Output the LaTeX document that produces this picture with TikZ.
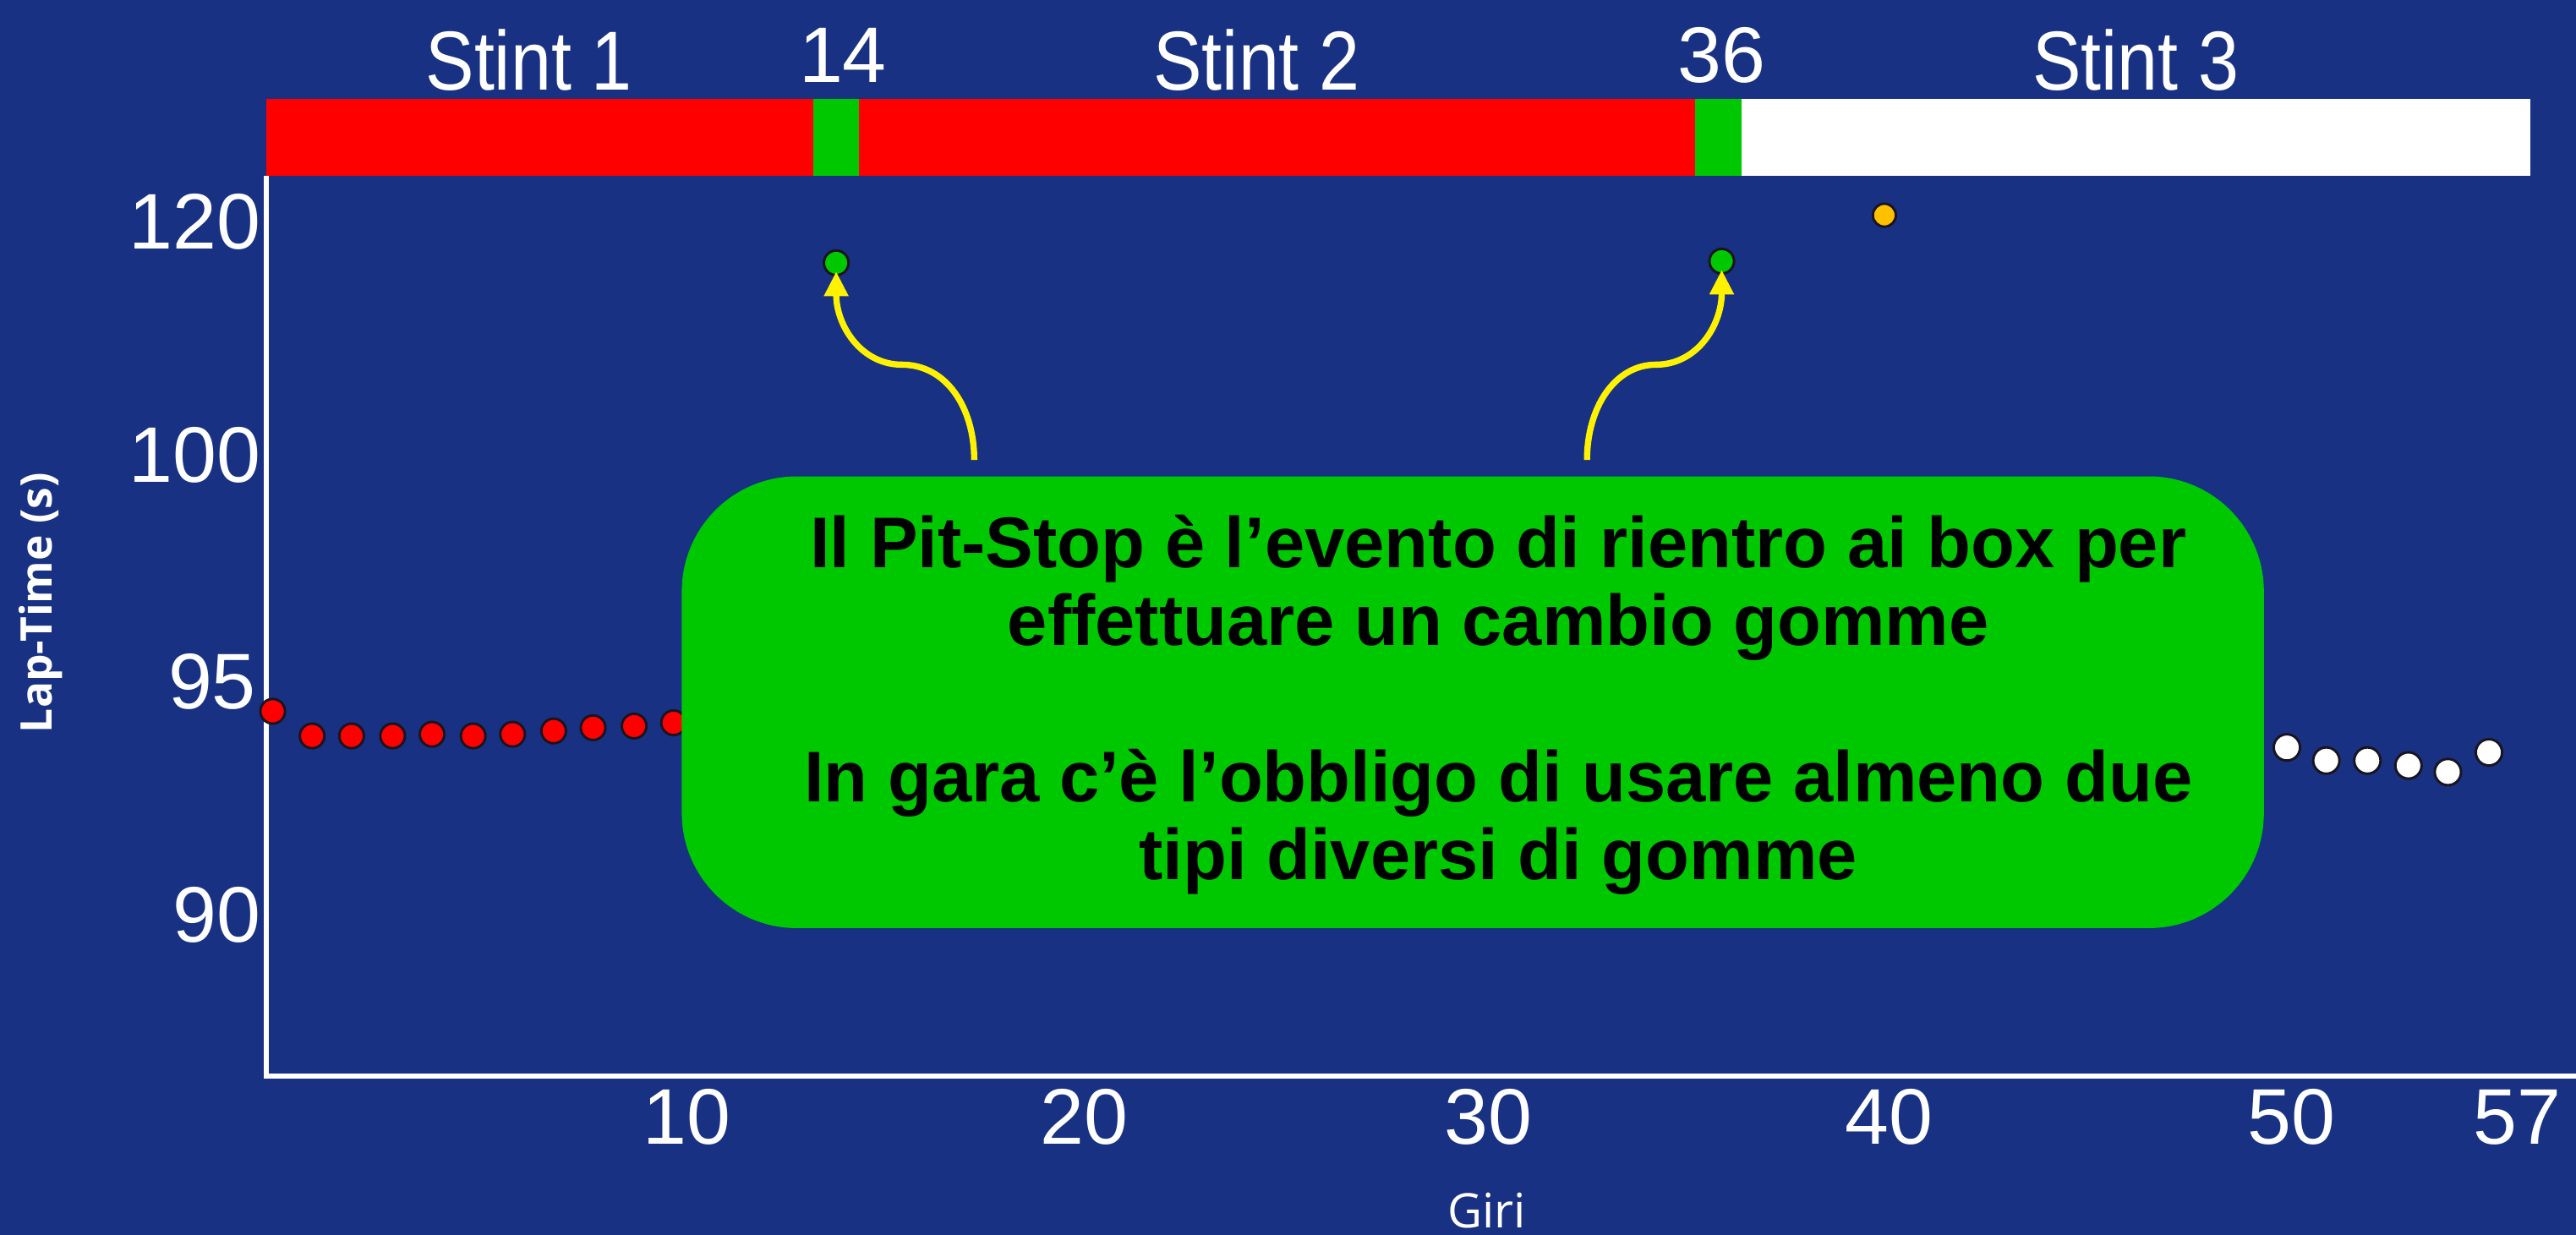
\documentclass[tikz,border=0pt]{standalone}
\usepackage{fontspec}
\setmainfont{Liberation Sans}
\newfontfamily\condsans[FakeStretch=0.87]{Liberation Sans}
\newfontfamily\osans{Open Sans}
\usetikzlibrary{arrows.meta}
\definecolor{bgblue}{RGB}{24,49,131}
\definecolor{barred}{RGB}{255,0,0}
\definecolor{bargreen}{RGB}{0,200,0}
\definecolor{dotorange}{RGB}{255,192,0}
\definecolor{dotedge}{RGB}{25,20,30}
\begin{document}
\begin{tikzpicture}[x=1pt,y=-1pt,
  dot/.style={circle,draw=dotedge,line width=1.5pt,minimum size=15pt,inner sep=0pt},
  reddot/.style={dot,fill=barred},
  greendot/.style={dot,fill=bargreen},
  whitedot/.style={dot,fill=white,minimum size=16pt},
  orangedot/.style={dot,fill=dotorange,minimum size=14pt},
  ticklbl/.style={text=white,font=\fontsize{48}{48}\selectfont,inner sep=0pt},
  stintlbl/.style={text=white,font=\condsans\fontsize{51}{51}\selectfont,inner sep=0pt,anchor=base},
  pitlbl/.style={text=white,font=\fontsize{48}{48}\selectfont,inner sep=0pt,anchor=base},
  axistitle/.style={text=white,inner sep=0pt},
  callout/.style={draw=yellow,line width=3.8pt,-{Triangle[length=15pt,width=14pt]},shorten >=-3pt},
  msgbox/.style={fill=bargreen,rounded corners=70pt,minimum width=963pt,minimum height=275pt,inner sep=0pt},
  msgtext/.style={text=black,align=center,inner sep=0pt,font=\bfseries\fontsize{43.7}{47.5}\selectfont}
]
% background and bounding box
\fill[bgblue] (0,0) rectangle (1568,751.8);
\useasboundingbox (0,0) rectangle (1568,751.8);

% stint bar
\fill[barred] (162,60) rectangle (495,107);
\fill[bargreen] (495,60) rectangle (523,107);
\fill[barred] (523,60) rectangle (1032,107);
\fill[bargreen] (1032,60) rectangle (1060,107);
\fill[white] (1060,60) rectangle (1540,107);

\node[stintlbl] (s1) at (322,55) {Stint 1};
\node[pitlbl] (p14) at (513,50) {14};
\node[stintlbl] (s2) at (765,55) {Stint 2};
\node[pitlbl] (p36) at (1048,50) {36};
\node[stintlbl] (s3) at (1300,55) {Stint 3};

% axes
\draw[white,line width=3.2pt] (162,107) -- (162,655) -- (1568,655);

% y tick labels
\node[ticklbl,anchor=east] (y120) at (159,135) {120};
\node[ticklbl,anchor=east] (y100) at (159,277) {100};
\node[ticklbl,anchor=east] (y95) at (156,415) {95};
\node[ticklbl,anchor=east] (y90) at (159,557) {90};

% x tick labels
\node[ticklbl] (x10) at (418,680) {10};
\node[ticklbl] (x20) at (660,680) {20};
\node[ticklbl] (x30) at (906,680) {30};
\node[ticklbl] (x40) at (1150,680) {40};
\node[ticklbl] (x50) at (1395,680) {50};
\node[ticklbl] (x57) at (1532,680) {57};

% axis titles
\node[axistitle,rotate=90,font=\osans\bfseries\fontsize{26.5}{26.5}\selectfont] (ytitle) at (25,367) {Lap-Time (s)};
\node[axistitle,font=\osans\fontsize{29}{29}\selectfont] (xtitle) at (905,737) {Giri};

% red dots (stint 1)
\node[reddot] (r1) at (166,433) {};
\node[reddot] (r2) at (190,448) {};
\node[reddot] (r3) at (214,448) {};
\node[reddot] (r4) at (239,448) {};
\node[reddot] (r5) at (263,447) {};
\node[reddot] (r6) at (288,448) {};
\node[reddot] (r7) at (312,447) {};
\node[reddot] (r8) at (337,445) {};
\node[reddot] (r9) at (361,443) {};
\node[reddot] (r10) at (386,442) {};
\node[reddot] (r11) at (410,440) {};

% white dots (stint 3)
\node[whitedot] (w1) at (1392,455) {};
\node[whitedot] (w2) at (1416,463) {};
\node[whitedot] (w3) at (1441,463) {};
\node[whitedot] (w4) at (1466,466) {};
\node[whitedot] (w5) at (1490,470) {};
\node[whitedot] (w6) at (1515,458) {};

% pit-stop and other dots
\node[greendot] (g1) at (509,160) {};
\node[greendot] (g2) at (1048,159) {};
\node[orangedot] (o1) at (1147,131) {};

% message box
\node[msgbox] (box) at (896.5,427.5) {};
\node[msgtext] (boxtext) at (912,429) {Il Pit-Stop è l’evento di rientro ai box per\\effettuare un cambio gomme\\[47.5pt]In gara c’è l’obbligo di usare almeno due\\tipi diversi di gomme};

% callout arrows
\coordinate (a1) at (593,280);
\coordinate (a2) at (966,280);
\draw[callout] (a1) .. controls (593,248) and (576,222) .. (549,222) .. controls (524,222) and (509,198) .. (g1);
\draw[callout] (a2) .. controls (966,248) and (983,222) .. (1008,222) .. controls (1033,222) and (1048,198) .. (g2);
\end{tikzpicture}
\end{document}
